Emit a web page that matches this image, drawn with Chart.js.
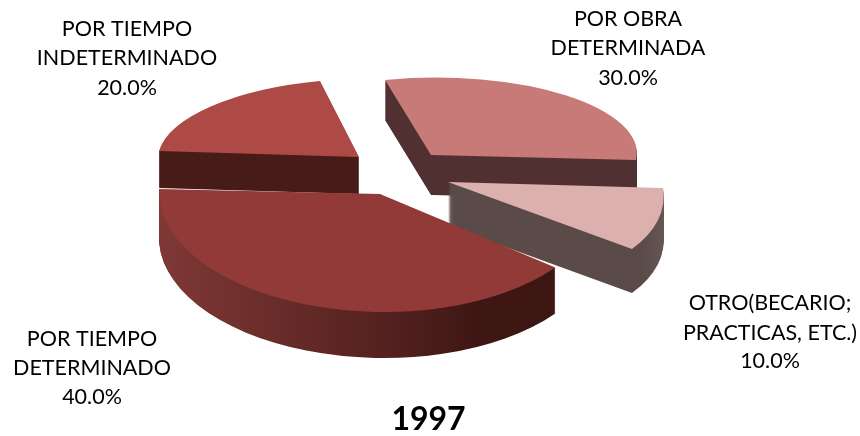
<!DOCTYPE html>
<html><head><meta charset="utf-8">
<style>html,body{margin:0;padding:0;background:#fff}canvas{display:block}</style>
<script src="https://cdn.jsdelivr.net/npm/chart.js@4/dist/chart.umd.min.js"></script>
</head><body>
<canvas id="c" width="860" height="436"></canvas>
<script>
const chartTitle = "1997";
const categories = ["POR TIEMPO DETERMINADO", "POR TIEMPO INDETERMINADO", "POR OBRA DETERMINADA", "OTRO(BECARIO; PRACTICAS, ETC.)"];
const values = [40, 20, 30, 10];
const labelLines = [["POR TIEMPO", "DETERMINADO"], ["POR TIEMPO", "INDETERMINADO"], ["POR OBRA", "DETERMINADA"], ["OTRO(BECARIO;", "PRACTICAS, ETC.)"]];
const topColors = ["#923a38", "#ae4a46", "#c77a78", "#dcb0ae"];

// Styling: 3D projection of every slice (pivot, 2x2 matrix, extrusion depth, side colours)
const projection = [
  {x:380, y:194, a:221,   b:2,    c:0,     d:118,  depth:46, side:[[0,"#7f3835"],[.5,"#552220"],[.72,"#3e1714"],[1,"#3c1613"]]},
  {x:359, y:157, a:200.5, b:3.96, c:-18.7, d:78.1, depth:37, side:[[0,"#471c18"],[1,"#471c18"]]},
  {x:431, y:155, a:205.4, b:2.97, c:-12.9, d:77.3, depth:40, side:[[0,"#503031"],[1,"#503031"]]},
  {x:448, y:182, a:214.5, b:3.23, c:22.7,  d:105.9,depth:44, side:[[0,"#5a4a48"],[.92,"#5a4a48"],[1,"#645856"]]}
];
const drawOrder = [1, 2, 3, 0];
const labelAnchors = [
  {x:92,  y:[339,368,397]},
  {x:127, y:[29,58,88]},
  {x:628, y:[19,48,78]},
  {x:770, y:[303,333,361]}
];

const pie3d = {
  id: "pie3d",
  beforeDatasetDraw() { return false; },
  afterDatasetsDraw(chart) {
    const ctx = chart.ctx;
    const arcs = chart.getDatasetMeta(0).data;
    for (const i of drawOrder) {
      const arc = arcs[i], p = projection[i], R = arc.outerRadius;
      const base = arc.options;
      const grad = ctx.createLinearGradient(arc.x - R, 0, arc.x + R, 0);
      p.side.forEach(s => grad.addColorStop(s[0], s[1]));
      const paint = (dy, color) => {
        arc.options = Object.create(base, {backgroundColor: {value: color}});
        ctx.save();
        ctx.translate(p.x, p.y + dy);
        ctx.transform(p.a / R, p.b / R, p.c / R, p.d / R, 0, 0);
        ctx.translate(-arc.x, -arc.y);
        arc.draw(ctx);
        ctx.restore();
      };
      for (let d = p.depth; d >= 1; d--) paint(d, grad);
      paint(0, topColors[i]);
      arc.options = base;
    }
    ctx.save();
    ctx.fillStyle = "#000";
    ctx.font = "21.5px Lato, Carlito, sans-serif";
    ctx.textAlign = "center";
    ctx.textBaseline = "middle";
    const total = values.reduce((s, v) => s + v, 0);
    labelLines.forEach((lines, i) => {
      const a = labelAnchors[i];
      const all = lines.concat([(values[i] / total * 100).toFixed(1) + "%"]);
      all.forEach((t, k) => ctx.fillText(t, a.x, a.y[k]));
    });
    ctx.restore();
  }
};

new Chart(document.getElementById("c"), {
  type: "pie",
  data: { labels: categories, datasets: [{ data: values, backgroundColor: topColors, borderWidth: 0 }] },
  plugins: [pie3d],
  options: {
    responsive: false,
    animation: false,
    rotation: 127.5,
    layout: { padding: { right: 3 } },
    plugins: {
      legend: { display: false },
      tooltip: { enabled: false },
      title: { display: true, text: chartTitle, position: "bottom", color: "#000",
               font: { family: "Lato, Carlito, sans-serif", size: 32, weight: "bold", lineHeight: 1 },
               padding: { top: 0, bottom: 0 } }
    }
  }
});
</script>
</body></html>
